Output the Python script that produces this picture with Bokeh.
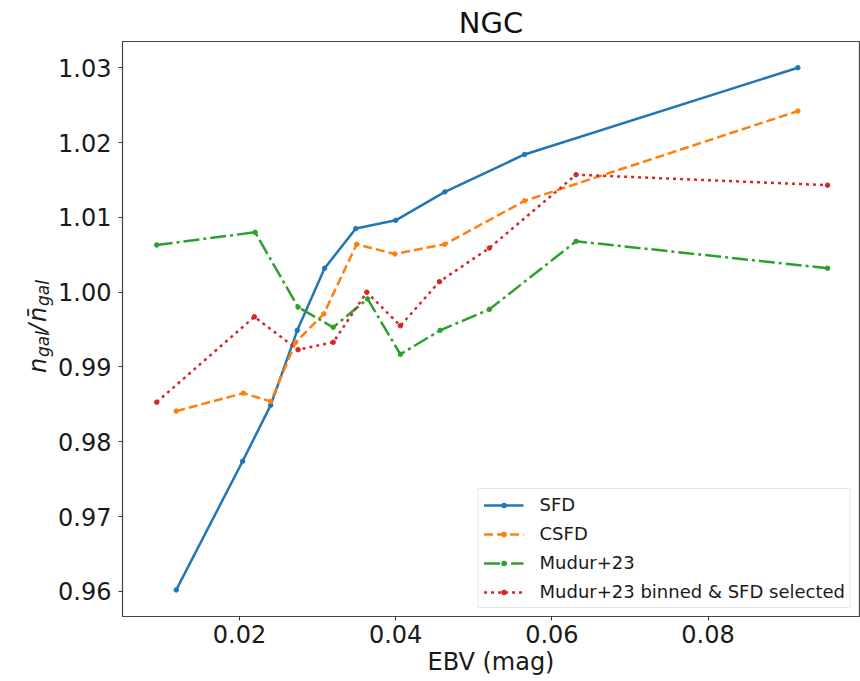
import math
from bokeh.plotting import figure
from bokeh.layouts import row
from bokeh.core.properties import value
from bokeh.models import Range1d, FixedTicker, PrintfTickFormatter, Legend, LegendItem
from bokeh.embed import file_html
from bokeh.resources import INLINE

# ---- data ----
sfd_x = [0.0119, 0.0204, 0.0240, 0.0274, 0.0309, 0.0349, 0.0400, 0.0463, 0.0565, 0.0915]
sfd_y = [0.9602, 0.9774, 0.9849, 0.9949, 1.0032, 1.0085, 1.0096, 1.0134, 1.0184, 1.0300]

csfd_x = [0.0119, 0.0205, 0.0240, 0.0272, 0.0308, 0.0350, 0.0399, 0.0463, 0.0565, 0.0915]
csfd_y = [0.9841, 0.9865, 0.9854, 0.9933, 0.9971, 1.0064, 1.0051, 1.0064, 1.0122, 1.0242]

mudur_x = [0.0094, 0.0220, 0.0275, 0.0320, 0.0364, 0.0406, 0.0457, 0.0520, 0.0631, 0.0953]
mudur_y = [1.0063, 1.0080, 0.9980, 0.9953, 0.9991, 0.9917, 0.9949, 0.9977, 1.0068, 1.0032]

binned_x = [0.0094, 0.0219, 0.0275, 0.0320, 0.0363, 0.0406, 0.0456, 0.0520, 0.0631, 0.0953]
binned_y = [0.9853, 0.9967, 0.9923, 0.9933, 1.0000, 0.9955, 1.0014, 1.0059, 1.0157, 1.0143]

x_ticks = [0.02, 0.04, 0.06, 0.08]
y_ticks = [0.96, 0.97, 0.98, 0.99, 1.00, 1.01, 1.02, 1.03]

series_names = ["SFD", "CSFD", "Mudur+23", "Mudur+23 binned & SFD selected"]

X0, X1 = 0.00502, 0.09939
Y0, Y1 = 0.95665, 1.0335

FONT = "DejaVu Sans"
TEXT = "#1a1a1a"
TOP, BOTTOM = 41, 65
H = 681
LW = 55   # width of the side strip carrying the y-axis label

p = figure(width=860 - LW, height=H, x_range=Range1d(X0, X1), y_range=Range1d(Y0, Y1),
           output_backend="svg", toolbar_location=None,
           min_border_left=122 - LW, min_border_right=1,
           min_border_top=TOP, min_border_bottom=BOTTOM)

p.xgrid.visible = False
p.ygrid.visible = False
p.outline_line_color = "#444444"
p.outline_line_width = 1.2
p.background_fill_color = "white"
p.border_fill_color = "white"

p.title.text = "NGC"
p.title.align = "center"
p.title.text_font = FONT
p.title.text_font_size = "29px"
p.title.text_font_style = "normal"
p.title.text_color = "#111111"
p.title.standoff = 4

for ax in (p.xaxis[0], p.yaxis[0]):
    ax.axis_line_color = None
    ax.major_tick_out = 4
    ax.major_tick_in = 0
    ax.minor_tick_out = 0
    ax.minor_tick_in = 0
    ax.major_tick_line_color = "#333333"
    ax.major_label_text_font = FONT
    ax.major_label_text_font_size = "24px"
    ax.major_label_text_color = TEXT
    ax.formatter = PrintfTickFormatter(format="%.2f")

p.xaxis.ticker = FixedTicker(ticks=x_ticks)
p.yaxis.ticker = FixedTicker(ticks=y_ticks)
p.xaxis.major_label_standoff = 4
p.yaxis.major_label_standoff = 7

p.xaxis.axis_label = "EBV (mag)"
p.xaxis.axis_label_text_font = FONT
p.xaxis.axis_label_text_font_size = "24px"
p.xaxis.axis_label_text_font_style = "normal"
p.xaxis.axis_label_text_color = TEXT
p.xaxis.axis_label_standoff = 2

colors = ["#1f77b4", "#ff7f0e", "#2ca02c", "#d62728"]
dashes = ["solid", "9 4", "16 4 3 4", "3 4"]
xs = [sfd_x, csfd_x, mudur_x, binned_x]
ys = [sfd_y, csfd_y, mudur_y, binned_y]

items = []
for name, c, d, x, y in zip(series_names, colors, dashes, xs, ys):
    r1 = p.line(x, y, line_color=c, line_width=2.5, line_dash=d)
    r2 = p.scatter(x, y, size=4.5, fill_color=c, line_color=c, marker="circle")
    items.append(LegendItem(label=name, renderers=[r1, r2]))

legend = Legend(items=items, location="bottom_right")
legend.margin = 8
legend.padding = 5
legend.spacing = 8
legend.glyph_width = 40
legend.glyph_height = 12
legend.label_height = 20
legend.label_standoff = 16
legend.label_text_font = FONT
legend.label_text_font_size = "18px"
legend.label_text_color = TEXT
legend.border_line_color = "#cccccc"
legend.border_line_width = 1
legend.background_fill_alpha = 0.85
p.add_layout(legend)

# ---- side strip with the y-axis label  n_gal / n̄_gal ----
lf = figure(width=LW, height=H, x_range=Range1d(0, LW), y_range=p.y_range,
            output_backend="svg", toolbar_location=None,
            x_axis_location=None, y_axis_location=None,
            min_border_left=0, min_border_right=0,
            min_border_top=TOP, min_border_bottom=BOTTOM)
lf.grid.visible = False
lf.outline_line_color = None
lf.background_fill_color = "white"
lf.border_fill_color = "white"

frame_h = H - TOP - BOTTOM
per_px = (Y1 - Y0) / frame_h
ymid = (Y0 + Y1) / 2
# (text, font size, baseline x in strip px, start position in px above frame centre)
pieces = [("n", "24px", 37.5, -44), ("gal", "17px", 42, -28), ("/", "24px", 37.5, -3),
          ("n\u0304", "24px", 37.5, 7), ("gal", "17px", 42, 23)]
for txt, fs, bx, d in pieces:
    lf.text(x=[bx], y=[ymid + d * per_px], text=[txt], angle=math.pi / 2,
            text_align="left", text_baseline="alphabetic",
            text_font=value(FONT), text_font_size=value(fs),
            text_font_style="italic", text_color=TEXT)

layout = row(lf, p, spacing=0)
open("out.html", "w").write(file_html(layout, INLINE))
